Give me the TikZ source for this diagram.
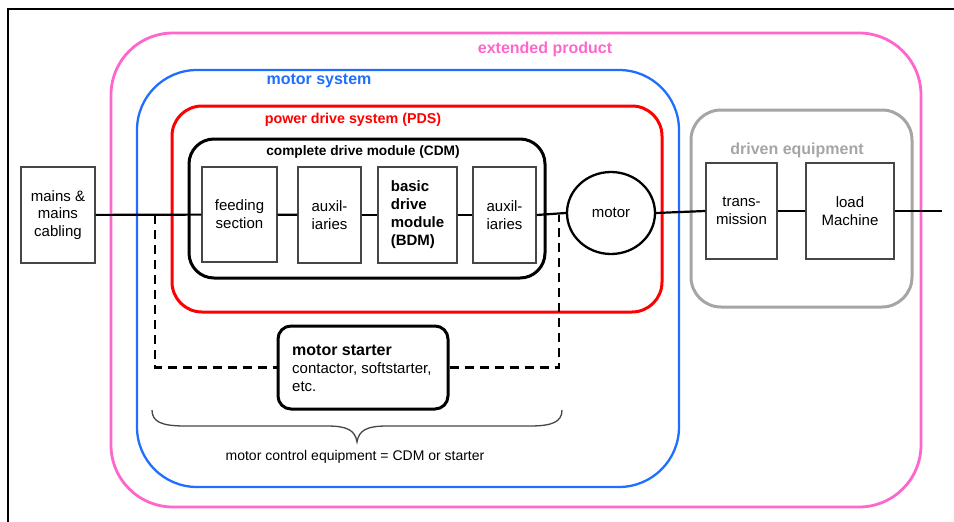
\documentclass[tikz,border=0pt]{standalone}
\usepackage{fontspec}
\setmainfont{Liberation Sans}
\usetikzlibrary{shapes.geometric}
\definecolor{pinkc}{RGB}{255,102,204}
\definecolor{bluec}{RGB}{30,110,255}
\definecolor{redc}{RGB}{255,0,0}
\definecolor{grayc}{RGB}{165,165,165}
\definecolor{boxc}{RGB}{70,70,70}
\begin{document}
\begin{tikzpicture}[x=1pt,y=-1pt,
  container/.style={draw,rectangle,inner sep=0pt},
  blockbox/.style={draw=boxc,line width=1.4pt,rectangle,inner sep=1pt,minimum height=96pt,align=center,font=\fontsize{15}{18}\selectfont},
  title/.style={font=\fontsize{16}{18}\selectfont\bfseries,inner sep=0pt},
  wire/.style={line width=2.2pt,black},
  dashline/.style={line width=2.2pt,dash pattern=on 9pt off 6pt}
]
\useasboundingbox (0,0) rectangle (954,522);
% frame
\draw[line width=2.5pt] (8,522) -- (8,9) -- (954,9);
% containers
\node[container,draw=pinkc,line width=2.8pt,rounded corners=62pt,minimum width=810pt,minimum height=474pt] (ext) at (516,270) {};
\node[container,draw=bluec,line width=2.3pt,rounded corners=60pt,minimum width=542pt,minimum height=417pt] (ms) at (408,278.5) {};
\node[container,draw=redc,line width=3pt,rounded corners=30pt,minimum width=490pt,minimum height=206pt] (pds) at (417,209) {};
\node[container,draw=black,line width=3pt,rounded corners=25pt,minimum width=356pt,minimum height=139pt] (cdm) at (367,208.5) {};
\node[container,draw=grayc,line width=3pt,rounded corners=30pt,minimum width=221pt,minimum height=197pt] (drv) at (801.5,208.5) {};
% titles
\node[title,text=pinkc] (extT) at (545,49) {extended product};
\node[title,text=bluec] (msT) at (319,81) {motor system};
\node[title,text=redc,font=\fontsize{14.3}{16}\selectfont\bfseries] (pdsT) at (353,120) {power drive system (PDS)};
\node[title,font=\fontsize{13.7}{15}\selectfont\bfseries] (cdmT) at (363,152) {complete drive module (CDM)};
\node[title,text=grayc] (drvT) at (797,150) {driven equipment};
% blocks
\node[blockbox,minimum width=74pt,font=\fontsize{15}{17.5}\selectfont] (mains) at (58,215) {mains \&\\mains\\cabling};
\node[blockbox,minimum width=75pt,minimum height=95pt] (feed) at (239.5,214.5) {feeding\\section};
\node[blockbox,minimum width=63pt] (aux1) at (329.5,215) {auxil-\\iaries};
\node[blockbox,minimum width=79pt,font=\fontsize{15}{18}\selectfont\bfseries,align=left] (bdm) at (417.5,215) {basic\\drive\\module\\(BDM)};
\node[blockbox,minimum width=63pt] (aux2) at (504.5,215) {auxil-\\iaries};
\node[draw,ellipse,line width=2.3pt,minimum width=88pt,minimum height=82pt,inner sep=0pt,font=\fontsize{15}{18}\selectfont] (motor) at (611,213) {motor};
\node[blockbox,minimum width=71pt] (trans) at (741.5,211) {trans-\\mission};
\node[blockbox,minimum width=88pt] (load) at (850,211) {load\\Machine};
\coordinate (endR) at (942,211);
% wires
\draw[wire] (mains) -- (feed);
\draw[wire] (feed) -- (aux1);
\draw[wire] (aux1) -- (bdm);
\draw[wire] (bdm) -- (aux2);
\draw[wire] (aux2.east) -- (motor.west);
\draw[wire] (motor.east) -- (trans.west);
\draw[wire] (trans) -- (load);
\draw[wire] (load.east) -- (endR);
% starter
\node[draw,line width=3pt,rounded corners=13pt,minimum width=170pt,minimum height=83pt,inner sep=0pt] (starter) at (363,367.5) {};
\node[anchor=west,align=left,inner sep=0pt,font=\fontsize{15}{18}\selectfont] (starterT) at (292,368) {{\bfseries\fontsize{16}{18}\selectfont motor starter}\\contactor, softstarter,\\etc.};
\coordinate (tapL) at (155,215);
\coordinate (tapR) at (559,214.5);
\draw[dashline] (tapL) |- (starter.west);
\draw[dashline] (starter.east) -| (tapR);
% brace
\draw[boxc,line width=1.3pt] (152,410) .. controls (152,422) and (162,426) .. (185,426) -- (327,426) .. controls (347,426) and (355,430) .. (357,442) .. controls (359,430) and (367,426) .. (387,426) -- (530,426) .. controls (552,426) and (562,422) .. (562,410);
\node[font=\fontsize{14}{16}\selectfont,inner sep=0pt] (mce) at (355,457) {motor control equipment = CDM or starter};
\end{tikzpicture}
\end{document}
